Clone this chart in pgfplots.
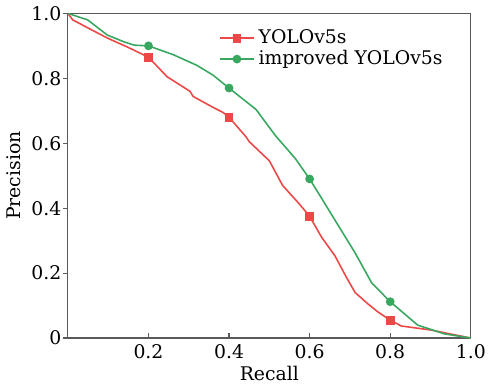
\documentclass[border=0pt]{standalone}
\usepackage{pgfplots}
\pgfplotsset{compat=1.18}
\usepackage{fontspec}
\setmainfont{DejaVu Serif}
\definecolor{cred}{RGB}{236,72,72}
\definecolor{cgreen}{RGB}{56,168,96}
\begin{document}
\fontsize{9.5}{11}\selectfont
\begin{tikzpicture}
\begin{axis}[
  scale only axis, width=203.5pt, height=164pt,
  xmin=0, xmax=1, ymin=0, ymax=1,
  xtick={0.2,0.4,0.6,0.8,1.0},
  xticklabels={0.2,0.4,0.6,0.8,1.0},
  ytick={0,0.2,0.4,0.6,0.8,1.0},
  yticklabels={0,0.2,0.4,0.6,0.8,1.0},
  /pgf/number format/assume math mode=true,
  tick align=inside,
  ytick style={xshift=-2.5pt},
  axis line style={draw=black!65, line width=0.6pt},
  tick style={black!65, line width=0.6pt},
  xtick pos=bottom, ytick pos=left,
  major tick length=2.5pt,
  xlabel={Recall}, ylabel={Precision},
  xlabel style={yshift=3pt},
  ylabel style={yshift=-1pt},
  legend style={draw=none, fill=none, at={(0.36,0.975)}, anchor=north west,
    row sep=-2pt, font=\fontsize{9.5}{10}\selectfont},
  legend cell align=left,
]
\addplot[cred, line width=0.8pt, mark=square*, mark size=1.8pt,
  mark indices={6,12,18,25},
  legend image code/.code={\draw[cred, line width=0.8pt] (0cm,0cm) -- (0.6cm,0cm);
    \fill[cred] (0.3cm,0cm) +(-1.8pt,-1.8pt) rectangle +(1.8pt,1.8pt);}] coordinates {
(0,1.0) (0.012,0.98) (0.05,0.955) (0.098,0.924) (0.15,0.895) (0.2,0.865)
(0.246,0.805) (0.303,0.76) (0.311,0.744) (0.361,0.71) (0.385,0.695) (0.4,0.68)
(0.442,0.62) (0.45,0.605) (0.5,0.546) (0.533,0.47) (0.573,0.415) (0.6,0.375)
(0.63,0.31) (0.663,0.253) (0.69,0.19) (0.713,0.14) (0.745,0.105)
(0.77,0.08) (0.8,0.055) (0.828,0.037) (0.9,0.025) (1.0,0.0)
};
\addlegendentry{YOLOv5s}
\addplot[cgreen, line width=0.8pt, mark=*, mark size=1.8pt,
  mark indices={6,10,15,20},
  legend image code/.code={\draw[cgreen, line width=0.8pt] (0cm,0cm) -- (0.6cm,0cm);
    \fill[cgreen] (0.3cm,0cm) circle (1.8pt);}] coordinates {
(0,1.0) (0.049,0.98) (0.098,0.933) (0.14,0.912) (0.165,0.902) (0.2,0.9)
(0.263,0.872) (0.32,0.84) (0.36,0.81) (0.4,0.77) (0.467,0.704) (0.516,0.622)
(0.533,0.598) (0.565,0.552) (0.6,0.49) (0.63,0.43) (0.663,0.363) (0.713,0.262)
(0.754,0.17) (0.8,0.112) (0.868,0.04) (0.934,0.013) (1.0,0.0)
};
\addlegendentry{improved YOLOv5s}
\end{axis}
\end{tikzpicture}
\end{document}
